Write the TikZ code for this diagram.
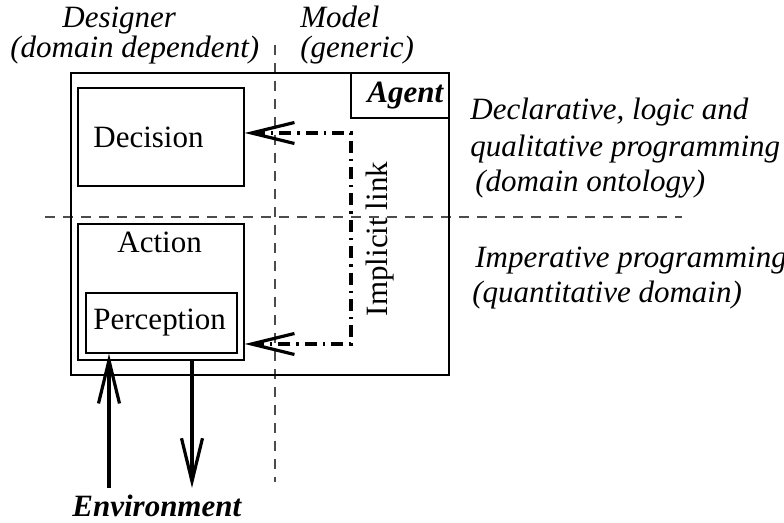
\documentclass[tikz,border=0pt]{standalone}
\usepackage{fontspec}
\setmainfont{Liberation Serif}
\usetikzlibrary{positioning,fit,arrows.meta}

\tikzset{
  box/.style={draw, line width=0.7pt, inner sep=0pt},
  txt/.style={inner sep=0pt, anchor=base west, font=\fontsize{15.5}{18}\selectfont},
  guide/.style={draw=black!70, line width=0.6pt, dash pattern=on 5pt off 4pt},
  barb/.tip={Straight Barb[length=21.5pt, width=10.5pt, line width=1.6pt]},
  flow/.style={line width=1.7pt, -barb},
  link/.style={line width=1.6pt, dash pattern=on 6pt off 3pt on 1.2pt off 3pt, barb-barb}
}

\begin{document}
\begin{tikzpicture}[x=0.5pt, y=-0.5pt]
    \useasboundingbox (0,0) rectangle (784,523);

    % guides
    \draw[guide] (275,45) -- (275,482);
    \draw[guide] (45,217) -- (682,217);

    % agent and its parts
    \node[box, fit={(71,73) (449,375)}] (agent) {};
    \node[box, fit={(351,73) (449,118)}] (agentbox) {};
    \node[txt, font=\fontsize{15.5}{18}\selectfont\bfseries\itshape] (agentlbl) at (367,103) {Agent};
    \node[box, fit={(78,88) (244,186)}] (decision) {};
    \node[txt] (decisionlbl) at (93,148) {Decision};
    \node[box, fit={(78,224) (244,360)}] (action) {};
    \node[txt] (actionlbl) at (117,253) {Action};
    \node[box, fit={(86,293) (237,353)}] (perception) {};
    \node[txt] (perceptionlbl) at (93,330) {Perception};

    % implicit link
    \coordinate (ltop) at (351,133);
    \coordinate (lbot) at (351,344);
    \draw[link] (decision.east |- ltop) -- (ltop) -- (lbot) -- (action.east |- lbot);
    \node[inner sep=0pt, rotate=90, font=\fontsize{15.5}{18}\selectfont] (implicit) at (380,239) {Implicit link};

    % environment
    \node[txt, font=\fontsize{15.5}{18}\selectfont\bfseries\itshape] (env) at (72,517) {Environment};
    \coordinate (envin) at (109,488);
    \coordinate (envout) at (192,488);
    \draw[flow] (envin) -- (envin |- perception.south);
    \draw[flow] (envout |- action.south) -- (envout);

    % columns
    \node[txt, font=\fontsize{15.5}{18}\selectfont\itshape] (designer) at (62,28) {Designer};
    \node[txt, font=\fontsize{15.5}{18}\selectfont\itshape] (designer2) at (10,58) {(domain dependent)};
    \node[txt, font=\fontsize{15.5}{18}\selectfont\itshape] (model) at (300,28) {Model};
    \node[txt, font=\fontsize{15.5}{18}\selectfont\itshape] (model2) at (300,58) {(generic)};

    % layers
    \node[txt, font=\fontsize{15.5}{18}\selectfont\itshape] (decl1) at (470,120) {Declarative, logic and};
    \node[txt, font=\fontsize{15.5}{18}\selectfont\itshape] (decl2) at (470,157) {qualitative programming};
    \node[txt, font=\fontsize{15.5}{18}\selectfont\itshape] (decl3) at (475,192) {(domain ontology)};
    \node[txt, font=\fontsize{15.5}{18}\selectfont\itshape] (imp1) at (475,268) {Imperative programming};
    \node[txt, font=\fontsize{15.5}{18}\selectfont\itshape] (imp2) at (472,303) {(quantitative domain)};

\end{tikzpicture}
\end{document}
